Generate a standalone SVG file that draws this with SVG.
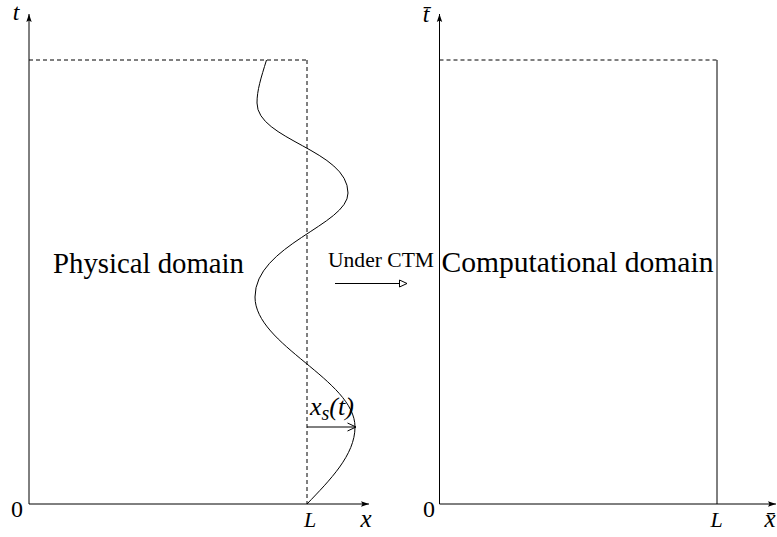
<svg xmlns="http://www.w3.org/2000/svg" width="777" height="537" viewBox="0 0 777 537">
<style>
.ln{stroke:#000;stroke-width:1;fill:none}
.dash{stroke:#000;stroke-width:1;fill:none;stroke-dasharray:4 3}
.rm{font-family:"Liberation Serif","DejaVu Serif",serif;fill:#000}
.it{font-family:"Liberation Serif","DejaVu Serif",serif;font-style:italic;fill:#000}
</style>
<defs>
<marker id="ax" markerWidth="10" markerHeight="8" refX="9" refY="4" orient="auto" markerUnits="userSpaceOnUse">
<path d="M1,1.3 L9,4 L1,6.7 L2.5,4 Z" fill="#000"/>
</marker>
<marker id="chev" markerWidth="11" markerHeight="10" refX="9.5" refY="5" orient="auto" markerUnits="userSpaceOnUse">
<path d="M1,1 L9.5,5 L1,9" fill="none" stroke="#000" stroke-width="1"/>
</marker>
<marker id="tri" markerWidth="10" markerHeight="10" refX="8.5" refY="5" orient="auto" markerUnits="userSpaceOnUse">
<path d="M1,1.5 L8.5,5 L1,8.5 Z" fill="#fff" stroke="#000" stroke-width="1"/>
</marker>
</defs>
<rect width="777" height="537" fill="#fff"/>

<g id="physical-domain">
<line class="ln" x1="29" y1="504" x2="29" y2="14" marker-end="url(#ax)"/>
<line class="ln" x1="29" y1="504" x2="369" y2="504" marker-end="url(#ax)"/>
<line class="dash" x1="29" y1="60" x2="307" y2="60"/>
<line class="dash" x1="307" y1="60" x2="307" y2="504"/>
<path class="ln" d="M266.5,60 C261,78 257,90 257,103 C257,140 348,150 348,193 C348,225 255,245 255,297 C255,345 355,380 355,427 C355,455 330,480 307,504"/>
<text class="it" x="16" y="20" font-size="24" text-anchor="middle">t</text>
<text class="rm" x="17" y="517" font-size="24" text-anchor="middle">0</text>
<text class="it" x="310" y="527" font-size="22" text-anchor="middle">L</text>
<text class="it" x="366" y="527" font-size="25" text-anchor="middle">x</text>
<text class="rm" x="53" y="273" font-size="30" textLength="191" lengthAdjust="spacingAndGlyphs">Physical domain</text>
<text class="it" x="310" y="415" font-size="26">x<tspan font-size="20" dy="5">s</tspan><tspan class="rm" font-size="26" dy="-5">(</tspan>t<tspan class="rm">)</tspan></text>
</g>

<g id="computational-domain">
<line class="ln" x1="439.5" y1="504" x2="439.5" y2="14" marker-end="url(#ax)"/>
<line class="ln" x1="439.5" y1="504" x2="776" y2="504" marker-end="url(#ax)"/>
<line class="dash" x1="439.5" y1="60" x2="717" y2="60"/>
<line class="ln" x1="717" y1="60" x2="717" y2="504"/>
<text class="it" x="426" y="22" font-size="24" text-anchor="middle">t̄</text>
<text class="rm" x="429" y="517" font-size="24" text-anchor="middle">0</text>
<text class="it" x="716.5" y="527" font-size="22" text-anchor="middle">L</text>
<text class="it" x="770" y="527" font-size="25" text-anchor="middle">x̄</text>
<text class="rm" x="441.5" y="272" font-size="30" textLength="272" lengthAdjust="spacingAndGlyphs">Computational domain</text>
</g>

<g id="connectors">
<line class="ln" x1="335" y1="283.5" x2="407" y2="283.5" marker-end="url(#tri)"/>
<text class="rm" x="328" y="267" font-size="22" textLength="106" lengthAdjust="spacingAndGlyphs">Under CTM</text>
<line class="ln" x1="307" y1="427" x2="356" y2="427" stroke-width="1.3" marker-end="url(#chev)"/>
</g>
</svg>
